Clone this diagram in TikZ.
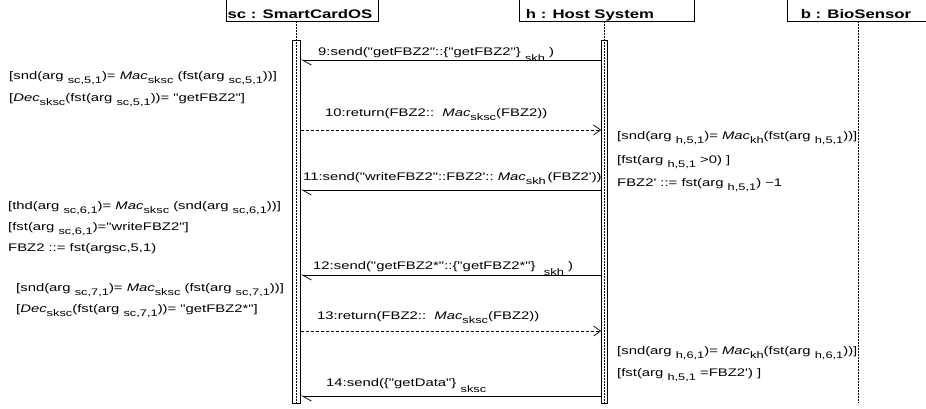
\documentclass[tikz,border=0pt]{standalone}
\usepackage{fontspec}
\newfontfamily\diagFont{Liberation Sans}[FakeStretch=1.35, BoldFeatures={FakeStretch=1.35}]
\usetikzlibrary{arrows.meta}

\newcommand{\argSub}[1]{\raisebox{-4pt}{\fontsize{9.5}{12}\selectfont #1}}
\newcommand{\keySub}[1]{\raisebox{-6pt}{\fontsize{9.5}{12}\selectfont #1}}

\begin{document}
\begin{tikzpicture}[
        x=1pt, y=-1pt,
        every node/.style={font=\diagFont\fontsize{11}{13}\selectfont, inner sep=0pt, anchor=base west},
        headLabel/.style={font=\diagFont\bfseries\fontsize{12.4}{14}\selectfont, anchor=base},
        headBox/.style={draw, line width=0.8pt},
        lifeLine/.style={draw, dash pattern=on 1.6pt off 1.4pt, line width=0.6pt},
        actBar/.style={draw, line width=0.7pt, rectangle, minimum height=363.5pt, anchor=north},
        sendMsg/.style={draw, line width=0.7pt, -{Straight Barb[left, length=9pt, width=10pt]}},
        returnMsg/.style={draw, line width=0.7pt, dash pattern=on 3pt off 2pt, -{Straight Barb[length=7pt, width=10pt]}}
        ]
        \clip (0,0) rectangle (926,408);

        % objects
        \draw[headBox] (226,-5) |- (378,21) -- (378,-5);
        \draw[headBox] (519,-5) |- (694,21) -- (694,-5);
        \draw[headBox] (787,-5) |- (940,21);
        \node[headLabel] (sc) at (300,18.5) {sc : SmartCardOS};
        \node[headLabel] (h) at (590,18.5) {h : Host System};
        \node[headLabel] (b) at (856,18.5) {b : BioSensor};

        \draw[lifeLine] (296.5,21) -- (296.5,403);
        \draw[lifeLine] (604.5,21) -- (604.5,403);
        \draw[lifeLine] (858,21) -- (858,403);

        \node[actBar, minimum width=8.4pt] (scbar) at (296.5,39.5) {};
        \node[actBar, minimum width=6pt] (hbar) at (604.5,39.5) {};

        % messages
        \node (m9) at (318,55) {9:send("getFBZ2"::\{"getFBZ2"\}~\keySub{skh}~)};
        \draw[sendMsg] (hbar.west |- 0,60) -- (scbar.east |- 0,60);
        \node (m10) at (325,116) {10:return(FBZ2::~~\textit{Mac}\argSub{sksc}(FBZ2))};
        \draw[returnMsg] (scbar.east |- 0,130) -- (hbar.west |- 0,130);
        \node (m11) at (303,180) {11:send("writeFBZ2"::FBZ2'::~\textit{Mac}\argSub{skh}\,(FBZ2'))};
        \draw[sendMsg] (hbar.west |- 0,190) -- (scbar.east |- 0,190);
        \node (m12) at (313,269) {12:send("getFBZ2*"::\{"getFBZ2*"\}~~\keySub{skh}~)};
        \draw[sendMsg] (hbar.west |- 0,275) -- (scbar.east |- 0,275);
        \node (m13) at (317,319) {13:return(FBZ2::~~\textit{Mac}\argSub{sksc}(FBZ2))};
        \draw[returnMsg] (scbar.east |- 0,331) -- (hbar.west |- 0,331);
        \node (m14) at (326,386) {14:send(\{"getData"\}~\keySub{sksc}};
        \draw[sendMsg] (hbar.west |- 0,396) -- (scbar.east |- 0,396);

        % smart card checks
        \node (sc5a) at (9,79) {[snd(arg \argSub{sc,5,1})=~\textit{Mac}\argSub{sksc} (fst(arg~\argSub{sc,5,1}))]};
        \node (sc5b) at (9,101) {[\textit{Dec}\argSub{sksc}(fst(arg~\argSub{sc,5,1}))= "getFBZ2"]};
        \node (sc6a) at (8,209) {[thd(arg \argSub{sc,6,1})=~\textit{Mac}\argSub{sksc} (snd(arg~\argSub{sc,6,1}))]};
        \node (sc6b) at (8,230) {[fst(arg \argSub{sc,6,1})="writeFBZ2"]};
        \node (sc6c) at (8,251) {FBZ2 ::= fst(argsc,5,1)};
        \node (sc7a) at (16,291) {[snd(arg \argSub{sc,7,1})=~\textit{Mac}\argSub{sksc} (fst(arg~\argSub{sc,7,1}))]};
        \node (sc7b) at (16,312) {[\textit{Dec}\argSub{sksc}(fst(arg~\argSub{sc,7,1}))= "getFBZ2*"]};

        % host checks
        \node (h5a) at (617,139) {[snd(arg \argSub{h,5,1})= \textit{Mac}\argSub{kh}(fst(arg \argSub{h,5,1}))]};
        \node (h5b) at (617,163) {[fst(arg~\argSub{h,5,1}~>0) ]};
        \node (h5c) at (617,186) {FBZ2' ::= fst(arg~\argSub{h,5,1}) −1};
        \node (h6a) at (617,354) {[snd(arg \argSub{h,6,1})= \textit{Mac}\argSub{kh}(fst(arg \argSub{h,6,1}))]};
        \node (h6b) at (617,376) {[fst(arg~\argSub{h,5,1}~=FBZ2') ]};
    \end{tikzpicture}
\end{document}
